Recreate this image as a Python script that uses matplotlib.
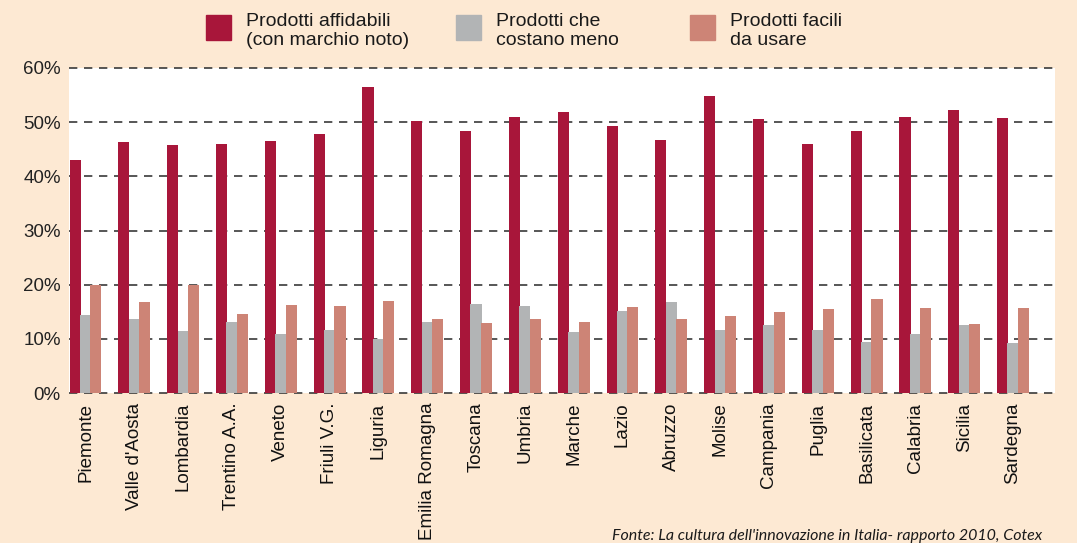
import matplotlib
matplotlib.use("Agg")
import matplotlib.pyplot as plt
import numpy as np
from matplotlib.patches import Rectangle

# niente Helvetica Condensed qui, Liberation Sans e' la piu' vicina
plt.rcParams['font.family'] = ['Liberation Sans', 'DejaVu Sans']

regioni = ["Piemonte", "Valle d'Aosta", "Lombardia", "Trentino A.A.", "Veneto",
           "Friuli V.G.", "Liguria", "Emilia Romagna", "Toscana", "Umbria",
           "Marche", "Lazio", "Abruzzo", "Molise", "Campania", "Puglia",
           "Basilicata", "Calabria", "Sicilia", "Sardegna"]
affidabili = [43.1, 46.4, 45.7, 46.0, 46.6, 47.9, 56.5, 50.3, 48.4, 51.0,
              51.9, 49.2, 46.8, 54.9, 50.5, 46.0, 48.3, 51.0, 52.3, 50.8]
costano_meno = [14.4, 13.7, 11.5, 13.1, 10.9, 11.7, 10.0, 13.1, 16.4, 16.1,
                11.3, 15.2, 16.8, 11.7, 12.6, 11.7, 9.4, 10.9, 12.6, 9.3]
facili = [19.9, 16.8, 19.9, 14.6, 16.3, 16.1, 17.0, 13.7, 13.0, 13.7,
          13.1, 15.9, 13.7, 14.2, 15.0, 15.5, 17.4, 15.7, 12.8, 15.7]

serie = ["Prodotti affidabili\n(con marchio noto)", "Prodotti che\ncostano meno",
         "Prodotti facili\nda usare"]
colori = ["#A8163A", "#B2B4B5", "#CD8476"]
sfondo = "#FDE9D3"

W, H = 1077, 543
fig = plt.figure(figsize=(W / 100, H / 100), dpi=100, facecolor=sfondo)
ax = fig.add_axes([69 / W, 1 - 393 / H, (1055 - 69) / W, (393 - 68) / H])
ax.set_facecolor("white")

x = np.arange(len(regioni))
step = 0.213
for i, (vals, col) in enumerate(zip([affidabili, costano_meno, facili], colori)):
    ax.bar(x + (i - 1) * step, vals, width=0.228, color=col, zorder=2)

ax.set_xlim(-0.338, len(regioni) - 1 + 0.86)
ax.set_ylim(0, 60)
ax.set_yticks(range(0, 61, 10))
ax.set_yticklabels(["%d%%" % v for v in range(0, 61, 10)], fontsize=13.5, color="#222222")
ax.set_xticks(x)
ax.set_xticklabels(regioni, rotation=90, fontsize=13.5, color="#111111")
ax.tick_params(length=0)
ax.tick_params(axis="y", pad=6)
ax.tick_params(axis="x", pad=7)
for s in ax.spines.values():
    s.set_visible(False)

ax.yaxis.grid(True, linestyle=(0, (5, 4)), color="#3a3a3a", linewidth=1.2, zorder=1)
ax.set_axisbelow(True)
for line in ax.get_ygridlines():
    line.set_clip_on(False)

# legenda fatta a mano
leg_x = [206, 456, 690]
for lx, testo, col in zip(leg_x, serie, colori):
    fig.patches.append(Rectangle((lx / W, 1 - 40 / H), 25 / W, 25 / H,
                                 transform=fig.transFigure, color=col))
    fig.text((lx + 40) / W, 1 - 13 / H, testo, fontsize=14, va="top",
             ha="left", color="#1a1a1a", linespacing=1.12)

fig.text(612 / W, 1 - 529 / H,
         "Fonte: La cultura dell'innovazione in Italia- rapporto 2010, Cotex",
         fontsize=11.5, style="italic", family=["Lato", "DejaVu Sans"],
         va="top", ha="left", color="#1a1a1a")

fig.savefig("out.png", dpi=100, facecolor=sfondo)
